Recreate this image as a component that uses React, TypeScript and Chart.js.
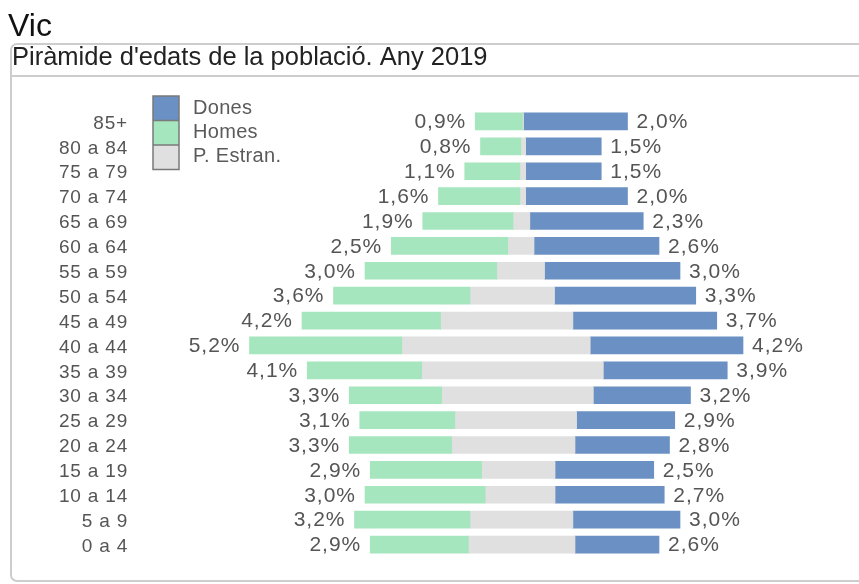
import React, { useEffect, useRef } from "react";
import { Chart, registerables } from "chart.js";

Chart.register(...registerables);

const ageGroups = [
  "85+", "80 a 84", "75 a 79", "70 a 74", "65 a 69", "60 a 64", "55 a 59", "50 a 54", "45 a 49",
  "40 a 44", "35 a 39", "30 a 34", "25 a 29", "20 a 24", "15 a 19", "10 a 14", "5 a 9", "0 a 4",
];
const homes = [0.9, 0.8, 1.1, 1.6, 1.9, 2.5, 3.0, 3.6, 4.2, 5.2, 4.1, 3.3, 3.1, 3.3, 2.9, 3.0, 3.2, 2.9];
const dones = [2.0, 1.5, 1.5, 2.0, 2.3, 2.6, 3.0, 3.3, 3.7, 4.2, 3.9, 3.2, 2.9, 2.8, 2.5, 2.7, 3.0, 2.6];
const estrangersHomes = [0.0, 0.03, 0.05, 0.05, 0.18, 0.28, 0.49, 1.0, 1.56, 2.3, 1.92, 1.54, 1.29, 1.35, 0.78, 0.71, 1.0, 1.03];
const estrangersDones = [0.02, 0.06, 0.06, 0.06, 0.14, 0.22, 0.42, 0.61, 0.96, 1.29, 1.54, 1.35, 1.03, 1.0, 0.62, 0.62, 0.96, 1.0];

const cityName = "Vic";
const chartTitle = "Piràmide d'edats de la població. Any 2019";
const legendLabels = ["Dones", "Homes", "P. Estran."];

const COLOR_DONES = "#6b90c3";
const COLOR_HOMES = "#a5e6bf";
const COLOR_ESTR = "#e0e0e0";
const FONT = "'Liberation Sans', Arial, sans-serif";

const fmt = (v: number) => v.toFixed(1).replace(".", ",") + "%";

const framePlugin = {
  id: "frame",
  beforeDraw(chart: any) {
    const ctx = chart.ctx;
    ctx.save();
    ctx.fillStyle = "#ffffff";
    ctx.fillRect(0, 0, chart.width, chart.height);
    ctx.fillStyle = "#111111";
    ctx.font = `32px ${FONT}`;
    ctx.textAlign = "left";
    ctx.textBaseline = "alphabetic";
    ctx.fillText(cityName, 8, 36);
    ctx.strokeStyle = "#cdcdcd";
    ctx.lineWidth = 2;
    ctx.beginPath();
    (ctx as any).roundRect(11, 44, 880, 537, 6);
    ctx.stroke();
    ctx.beginPath();
    ctx.moveTo(11, 76);
    ctx.lineTo(chart.width, 76);
    ctx.stroke();
    ctx.fillStyle = "#222222";
    ctx.font = `25.5px ${FONT}`;
    ctx.fillText(chartTitle, 12, 65);
    ctx.restore();
  },
  afterDatasetsDraw(chart: any) {
    const ctx = chart.ctx;
    const xs = chart.scales.x;
    const ys = chart.scales.y;
    ctx.save();
    ctx.textBaseline = "middle";
    // category labels
    ctx.font = `19px ${FONT}`;
    (ctx as any).letterSpacing = "0.8px";
    ctx.fillStyle = "#555555";
    ctx.textAlign = "right";
    ageGroups.forEach((g, i) => {
      ctx.fillText(g, 128, ys.getPixelForValue(i) + 2);
    });
    // value labels
    ctx.font = `21px ${FONT}`;
    (ctx as any).letterSpacing = "1px";
    ageGroups.forEach((_, i) => {
      const y = ys.getPixelForValue(i) + 1;
      ctx.textAlign = "right";
      ctx.fillText(fmt(homes[i]), xs.getPixelForValue(-homes[i]) - 9, y);
      ctx.textAlign = "left";
      ctx.fillText(fmt(dones[i]), xs.getPixelForValue(dones[i]) + 9, y);
    });
    (ctx as any).letterSpacing = "0px";
    // legend
    const colors = [COLOR_DONES, COLOR_HOMES, COLOR_ESTR];
    const lx = 153;
    const top = 96;
    const h = 24.5;
    colors.forEach((c, k) => {
      ctx.fillStyle = c;
      ctx.fillRect(lx, top + k * h, 26, h);
    });
    ctx.strokeStyle = "#7a7a7a";
    ctx.lineWidth = 1.5;
    ctx.strokeRect(lx, top, 26, h * 3);
    ctx.beginPath();
    ctx.moveTo(lx, top + h);
    ctx.lineTo(lx + 26, top + h);
    ctx.moveTo(lx, top + 2 * h);
    ctx.lineTo(lx + 26, top + 2 * h);
    ctx.stroke();
    ctx.fillStyle = "#5a5a5a";
    ctx.font = `20px ${FONT}`;
    (ctx as any).letterSpacing = "0.3px";
    ctx.textAlign = "left";
    legendLabels.forEach((t, k) => {
      ctx.fillText(t, 193, 108 + k * 24);
    });
    ctx.restore();
  },
};

export default function App() {
  const ref = useRef<HTMLCanvasElement | null>(null);
  useEffect(() => {
    if (!ref.current) return;
    const chart = new Chart(ref.current, {
      type: "bar",
      data: {
        labels: ageGroups,
        datasets: [
          {
            label: "Homes",
            data: ageGroups.map((_, i) => [-homes[i], -estrangersHomes[i]]) as any,
            backgroundColor: COLOR_HOMES,
            grouped: false,
            barThickness: 17,
          } as any,
          {
            label: "P. Estran.",
            data: ageGroups.map((_, i) => [-estrangersHomes[i], estrangersDones[i]]) as any,
            backgroundColor: COLOR_ESTR,
            grouped: false,
            barThickness: 17,
          } as any,
          {
            label: "Dones",
            data: ageGroups.map((_, i) => [estrangersDones[i], dones[i]]) as any,
            backgroundColor: COLOR_DONES,
            grouped: false,
            barThickness: 17,
          } as any,
        ],
      },
      options: {
        indexAxis: "y",
        animation: false,
        responsive: false,
        maintainAspectRatio: false,
        layout: { padding: { left: 0, right: 11, top: 109, bottom: 27 } },
        plugins: {
          legend: { display: false },
          tooltip: { enabled: false },
          title: { display: false },
        },
        scales: {
          x: {
            display: false,
            min: -7.4,
            max: 6.2,
          },
          y: {
            grid: { display: false, drawTicks: false },
            border: { display: false },
            ticks: { display: false, autoSkip: false },
            afterFit: (scale: any) => {
              scale.width = 134;
            },
          },
        },
      },
      plugins: [framePlugin],
    });
    return () => chart.destroy();
  }, []);
  return (
    <div style={{ position: "fixed", left: 0, top: 0, width: 859, height: 584, background: "#fff" }}>
      <canvas ref={ref} width={859} height={584} style={{ display: "block", width: 859, height: 584 }} />
    </div>
  );
}
